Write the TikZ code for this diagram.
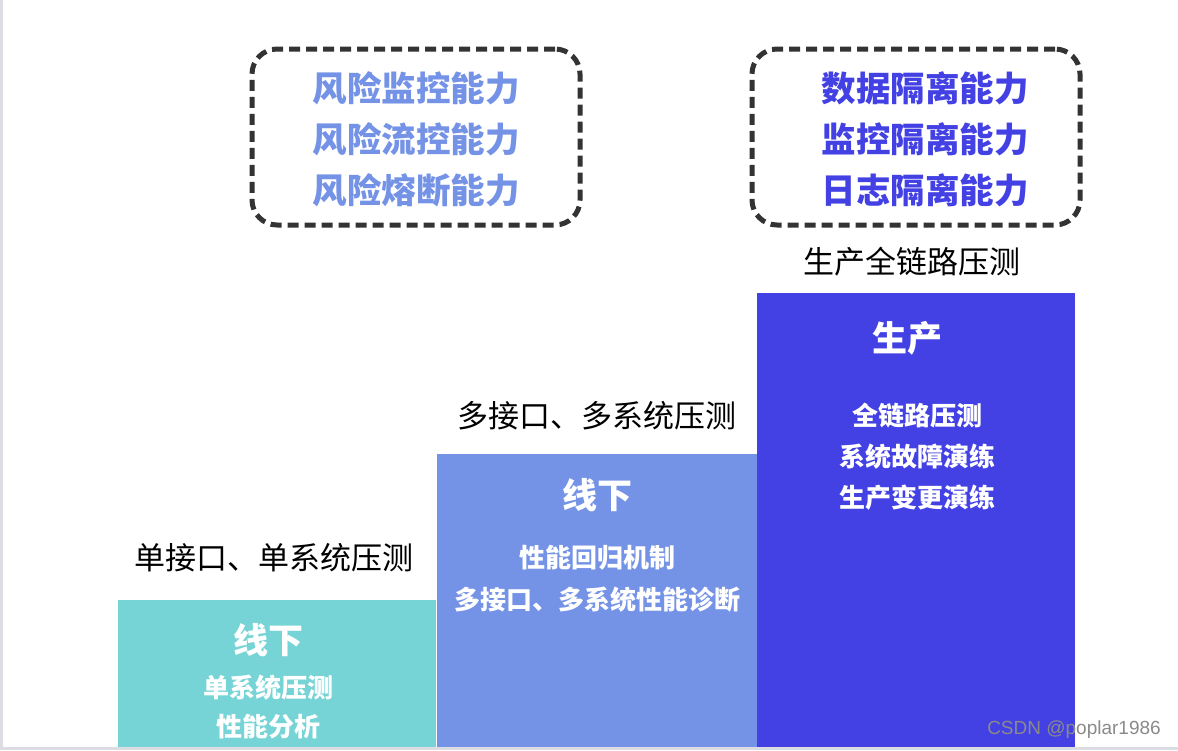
\documentclass[tikz,border=0pt]{standalone}
\usepackage{fontspec}
\setmainfont{Liberation Sans}
\newfontfamily\cjk{Noto Sans CJK SC}
\definecolor{tealbox}{HTML}{77D4D6}
\definecolor{midblue}{HTML}{7593E6}
\definecolor{deepblue}{HTML}{4341E3}
\definecolor{edgegray}{HTML}{DCDDE2}
\definecolor{dashgray}{HTML}{333333}
\definecolor{wmgray}{HTML}{8A8A8A}
\begin{document}
\begin{tikzpicture}[x=1pt,y=-1pt,
  stage/.style={inner sep=0pt, outer sep=0pt, anchor=north west},
  dashbox/.style={draw=dashgray, line width=5pt, dash pattern=on 11pt off 6pt, rounded corners=25pt, inner sep=0pt, minimum width=328pt, minimum height=176pt},
  captxt/.style={font=\cjk\fontsize{31}{31}\selectfont, text=black, inner sep=0pt},
  titletxt/.style={font=\cjk\bfseries\fontsize{35}{35}\selectfont, text=white, inner sep=0pt},
  itemtxt/.style={font=\cjk\bfseries\fontsize{26}{26}\selectfont, text=white, inner sep=0pt},
  abilitytxt/.style={font=\cjk\bfseries\fontsize{34.5}{34.5}\selectfont, inner sep=0pt},
  wmtxt/.style={font=\fontsize{19}{19}\selectfont, text=wmgray, inner sep=0pt}
]
\useasboundingbox[fill=white] (0,0) rectangle (1178,750);
% frame edges
\fill[edgegray] (0,0) rectangle (2.5,750);
\fill[edgegray] (0,747) rectangle (1178,750);
% stage boxes
\node[stage, fill=tealbox, minimum width=318pt, minimum height=147pt] (b1) at (118,600) {};
\node[stage, fill=midblue, minimum width=320pt, minimum height=293pt] (b2) at (437,454) {};
\node[stage, fill=deepblue, minimum width=318pt, minimum height=454pt] (b3) at (757,293) {};
% captions above
\node[captxt] (c1) at (274,558) {单接口、单系统压测};
\node[captxt] (c2) at (597,416) {多接口、多系统压测};
\node[captxt] (c3) at (912,262) {生产全链路压测};
% box 1
\node[titletxt] (t1) at (268,640) {线下};
\node[itemtxt] (i11) at (268,688) {单系统压测};
\node[itemtxt] (i12) at (268,727) {性能分析};
% box 2
\node[titletxt] (t2) at (597,495) {线下};
\node[itemtxt] (i21) at (597,558) {性能回归机制};
\node[itemtxt] (i22) at (597,600) {多接口、多系统性能诊断};
% box 3
\node[titletxt] (t3) at (907,338) {生产};
\node[itemtxt] (i31) at (917,416) {全链路压测};
\node[itemtxt] (i32) at (917,457) {系统故障演练};
\node[itemtxt] (i33) at (917,498) {生产变更演练};
% dashed boxes
\node[dashbox] (d1) at (416,137) {};
\node[dashbox] (d2) at (916,137) {};
\node[abilitytxt, text=midblue] (a11) at (416,88) {风险监控能力};
\node[abilitytxt, text=midblue] (a12) at (416,139) {风险流控能力};
\node[abilitytxt, text=midblue] (a13) at (416,190) {风险熔断能力};
\node[abilitytxt, text=deepblue] (a21) at (925,88) {数据隔离能力};
\node[abilitytxt, text=deepblue] (a22) at (925,139) {监控隔离能力};
\node[abilitytxt, text=deepblue] (a23) at (925,190) {日志隔离能力};
% watermark
\node[wmtxt] (wm) at (1074,730) {CSDN @poplar1986};
\end{tikzpicture}
\end{document}
